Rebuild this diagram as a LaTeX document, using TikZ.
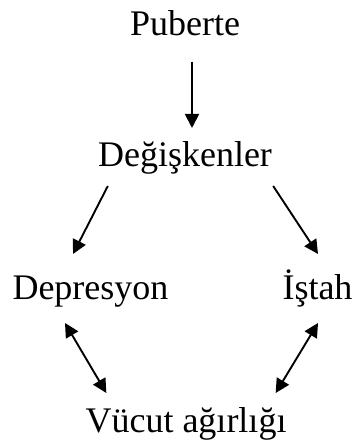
\documentclass[tikz,border=0pt]{standalone}
\usepackage{fontspec}
\setmainfont{Liberation Serif}
\usepackage{tikz}
\usetikzlibrary{arrows.meta}

\begin{document}
\begin{tikzpicture}[x=1pt, y=1pt, >={Triangle[length=14pt, width=14pt]},
  label/.style={inner sep=0pt, anchor=base, font=\fontsize{36}{43}\selectfont},
  link/.style={line width=1.9pt}]

\useasboundingbox (0,0) rectangle (358,444);

% -------------------------------------------------------
% 1. Terms
% -------------------------------------------------------
\node[label] (pub) at (185,408) {Puberte};
\node[label] (deg) at (185,277) {Değişkenler};
\node[label] (dep) at (90.5,144) {Depresyon};
\node[label] (ist) at (317.5,144) {İştah};
\node[label] (vuc) at (186,12) {Vücut ağırlığı};

% -------------------------------------------------------
% 2. One-way arrows
% -------------------------------------------------------
\draw[->, link] ([xshift=7pt, yshift=-26pt]pub.base) -- ([xshift=7pt, yshift=39pt]deg.base);
\draw[->, link] ([xshift=10pt, yshift=-19pt]deg.base west) -- ([xshift=-17.5pt, yshift=46pt]dep.base);
\draw[->, link] ([xshift=1pt, yshift=-19pt]deg.base east) -- ([xshift=0.5pt, yshift=46pt]ist.base);

% -------------------------------------------------------
% 3. Two-way arrows
% -------------------------------------------------------
\draw[<->, link] ([xshift=-25.5pt, yshift=-23pt]dep.base) -- ([xshift=21pt, yshift=39pt]vuc.base west);
\draw[<->, link] ([xshift=0.5pt, yshift=-23pt]ist.base) -- ([xshift=-11pt, yshift=39pt]vuc.base east);

\end{tikzpicture}
\end{document}
